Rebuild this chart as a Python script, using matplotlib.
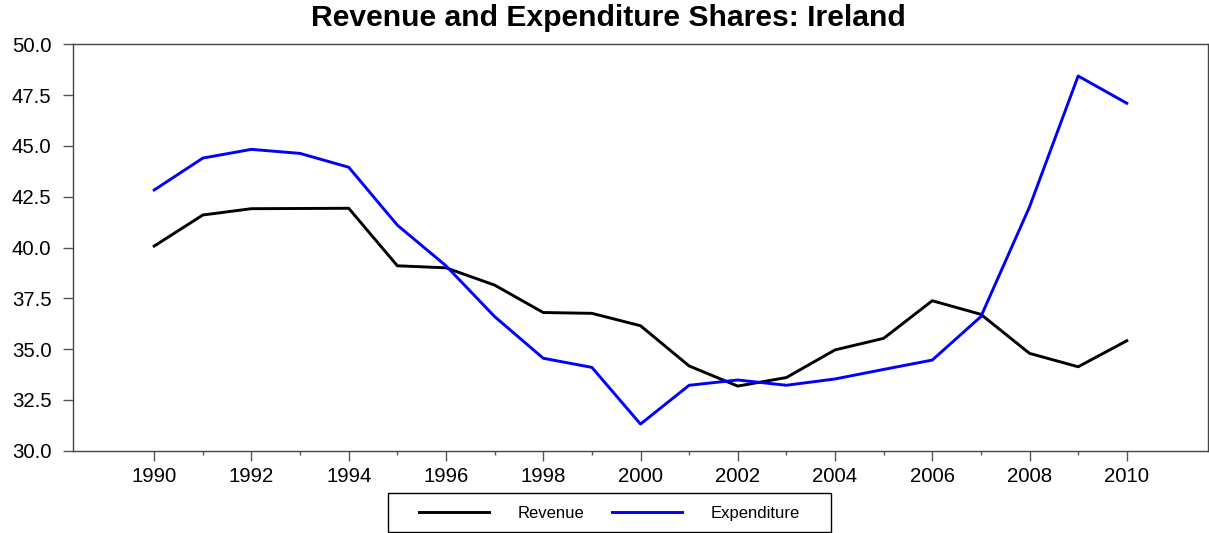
import matplotlib
matplotlib.use("Agg")
import matplotlib.pyplot as plt
from matplotlib.ticker import MultipleLocator, FormatStrFormatter, FixedLocator
from matplotlib.patches import Rectangle

plt.rcParams['font.family'] = ['Liberation Sans', 'DejaVu Sans']

years = list(range(1990, 2011))
revenue = [40.07, 41.6, 41.91, 41.92, 41.93, 39.1, 39.0, 38.15, 36.8, 36.76, 36.15,
           34.17, 33.18, 33.6, 34.96, 35.53, 37.38, 36.71, 34.79, 34.13, 35.41]
expenditure = [42.83, 44.4, 44.83, 44.63, 43.95, 41.1, 39.1, 36.6, 34.55, 34.1, 31.31,
               33.22, 33.48, 33.22, 33.53, 34.0, 34.46, 36.6, 42.0, 48.44, 47.1]

W, H = 1209, 533
fig = plt.figure(figsize=(W / 100, H / 100), dpi=100)
ax = fig.add_axes([73 / W, (H - 450.7) / H, (1208 - 73) / W, (450.7 - 44.3) / H])

l1, = ax.plot(years, revenue, color='black', lw=2.1, label='Revenue')
l2, = ax.plot(years, expenditure, color='#0000ff', lw=2.1, label='Expenditure')

ax.set_xlim(1988.33, 2011.67)
ax.set_ylim(30, 50)
ax.yaxis.set_major_locator(MultipleLocator(2.5))
ax.yaxis.set_major_formatter(FormatStrFormatter('%.1f'))
ax.set_xticks(years[::2])
ax.xaxis.set_minor_locator(FixedLocator(years[1::2]))

for s in ax.spines.values():
    s.set_color('#444444')
    s.set_linewidth(1.0)
ax.tick_params(axis='both', which='major', length=7.5, width=1.0, color='#555555',
               labelsize=14.7, direction='out')
ax.tick_params(axis='x', which='minor', length=3, width=1.0, color='#555555', direction='out')
ax.tick_params(axis='y', which='major', pad=8)
ax.tick_params(axis='x', which='major', pad=4)

fig.text(608 / W, 1 - 18 / H, 'Revenue and Expenditure Shares: Ireland', ha='center',
         va='center', fontsize=21.7, fontweight='bold')

leg = fig.legend(handles=[l1, l2], loc='lower center', bbox_to_anchor=(609.5 / W, 1 / H),
                 ncol=2, fontsize=12, handlelength=4.2, handletextpad=1.7, columnspacing=1.7,
                 borderpad=0.65, borderaxespad=0, frameon=False)
for h in leg.get_lines():
    h.set_linewidth(2.1)
fig.patches.append(Rectangle((388 / W, 1 - 532 / H), (831 - 388) / W, (532 - 493) / H,
                             transform=fig.transFigure, fill=False, edgecolor='black',
                             linewidth=1.0))

fig.savefig('out.png', dpi=100)
